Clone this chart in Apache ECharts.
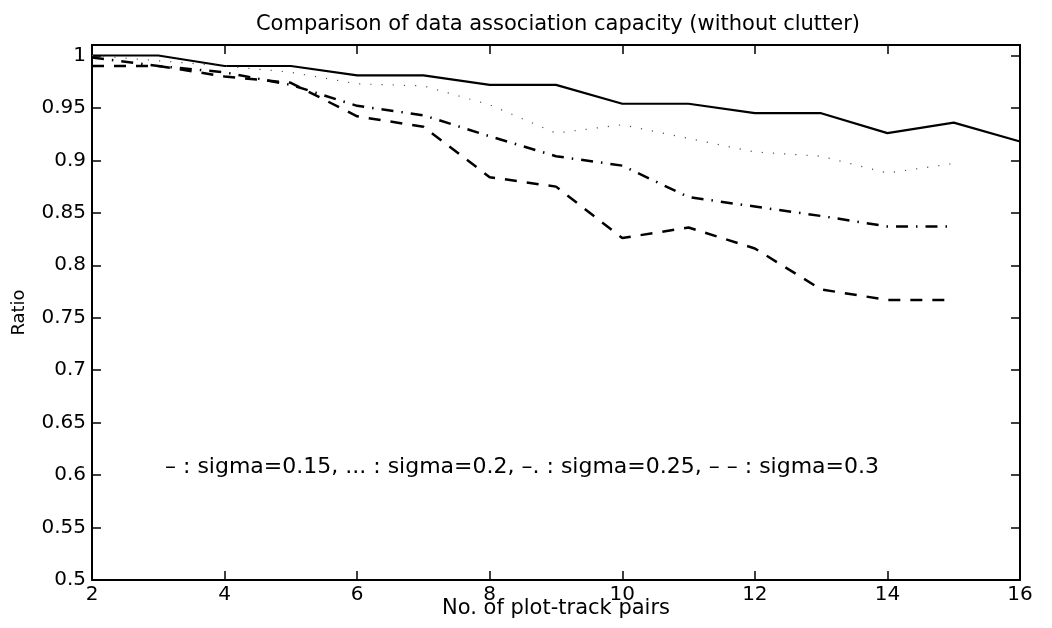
<!DOCTYPE html>
<html>
<head>
<meta charset="utf-8">
<script src="https://cdn.jsdelivr.net/npm/echarts@6/dist/echarts.min.js"></script>
<style>html,body{margin:0;padding:0;background:#fff;}#c{width:1052px;height:628px;}</style>
</head>
<body>
<div id="c"></div>
<script>
// Data
const xSolid = [2,3,4,5,6,7,8,9,10,11,12,13,14,15,16];
const sigma015 = [1.0,1.0,0.99,0.99,0.981,0.981,0.972,0.972,0.954,0.954,0.945,0.945,0.926,0.936,0.918];
const xOther = [2,3,4,5,6,7,8,9,10,11,12,13,14,15];
const sigma020 = [1.0,0.995,0.99,0.984,0.973,0.971,0.953,0.926,0.934,0.921,0.908,0.904,0.888,0.897];
const sigma025 = [0.998,0.99,0.984,0.972,0.952,0.943,0.923,0.904,0.895,0.865,0.856,0.847,0.837,0.837];
const sigma030 = [0.99,0.99,0.98,0.974,0.942,0.932,0.884,0.875,0.826,0.836,0.816,0.777,0.767,0.767];
const xTicks = [2,4,6,8,10,12,14,16];
const yTicks = [0.5,0.55,0.6,0.65,0.7,0.75,0.8,0.85,0.9,0.95,1];

const pairs = (xs, ys) => xs.map((x, i) => [x, ys[i]]);
const font = '"DejaVu Sans", Verdana, sans-serif';
const chart = echarts.init(document.getElementById('c'));
const baseX = {
  type: 'value', min: xTicks[0], max: xTicks[xTicks.length-1], interval: 2,
  axisLine: {show: true, onZero: false, lineStyle: {color: '#000', width: 2}},
  axisTick: {show: true, inside: true, length: 9, lineStyle: {color: '#000', width: 1.5}},
  splitLine: {show: false}
};
const baseY = {
  type: 'value', min: 0.5, max: 1.01, interval: 0.05,
  axisLine: {show: true, onZero: false, lineStyle: {color: '#000', width: 2}},
  axisTick: {show: true, inside: true, length: 9, lineStyle: {color: '#000', width: 1.5}},
  splitLine: {show: false}
};
const yFmt = v => {
  const r = Math.round(v * 100) / 100;
  return yTicks.some(t => Math.abs(v - t) < 1e-6) ? String(r) : '';
};
chart.setOption({
  animation: false,
  backgroundColor: '#fff',
  title: {
    text: 'Comparison of data association capacity (without clutter)',
    left: 553, top: 9, textAlign: 'center',
    textStyle: {fontFamily: font, fontSize: 21, fontWeight: 'normal', color: '#000'}
  },
  grid: {left: 92, right: 32, top: 45, bottom: 48, containLabel: false, outerBoundsMode: 'none'},
  xAxis: [
    Object.assign({}, baseX, {
      position: 'bottom',
      name: 'No. of plot-track pairs', nameLocation: 'middle', nameGap: 18, nameMoveOverlap: false,
      nameTextStyle: {fontFamily: font, fontSize: 21, color: '#000'},
      axisLabel: {fontFamily: font, fontSize: 20, color: '#000', margin: 5}
    }),
    Object.assign({}, baseX, {position: 'top', axisLabel: {show: false}})
  ],
  yAxis: [
    Object.assign({}, baseY, {
      position: 'left',
      name: 'Ratio', nameLocation: 'middle', nameGap: 64, nameRotate: 90, nameMoveOverlap: false,
      nameTextStyle: {fontFamily: font, fontSize: 18, color: '#000'},
      axisLabel: {fontFamily: font, fontSize: 20, color: '#000', margin: 6, formatter: yFmt, showMaxLabel: false}
    }),
    Object.assign({}, baseY, {position: 'right', axisLabel: {show: false}})
  ],
  series: [
    {name: 'sigma=0.15', type: 'line', data: pairs(xSolid, sigma015), symbol: 'none',
     lineStyle: {color: '#000', width: 2.2, type: 'solid'}},
    {name: 'sigma=0.2', type: 'line', data: pairs(xOther, sigma020), symbol: 'none',
     lineStyle: {color: '#555', width: 1.2, type: [1.2, 10]}},
    {name: 'sigma=0.25', type: 'line', data: pairs(xOther, sigma025), symbol: 'none',
     lineStyle: {color: '#000', width: 2.5, type: [12, 8, 1.5, 8]}},
    {name: 'sigma=0.3', type: 'line', data: pairs(xOther, sigma030), symbol: 'none',
     lineStyle: {color: '#000', width: 2.5, type: [12, 10]}}
  ],
  graphic: [{
    type: 'text', left: 165, top: 456,
    style: {text: '\u2013 : sigma=0.15, ... : sigma=0.2, \u2013. : sigma=0.25, \u2013 \u2013 : sigma=0.3',
            font: '22px ' + font, fill: '#000'}
  }]
});
</script>
</body>
</html>
